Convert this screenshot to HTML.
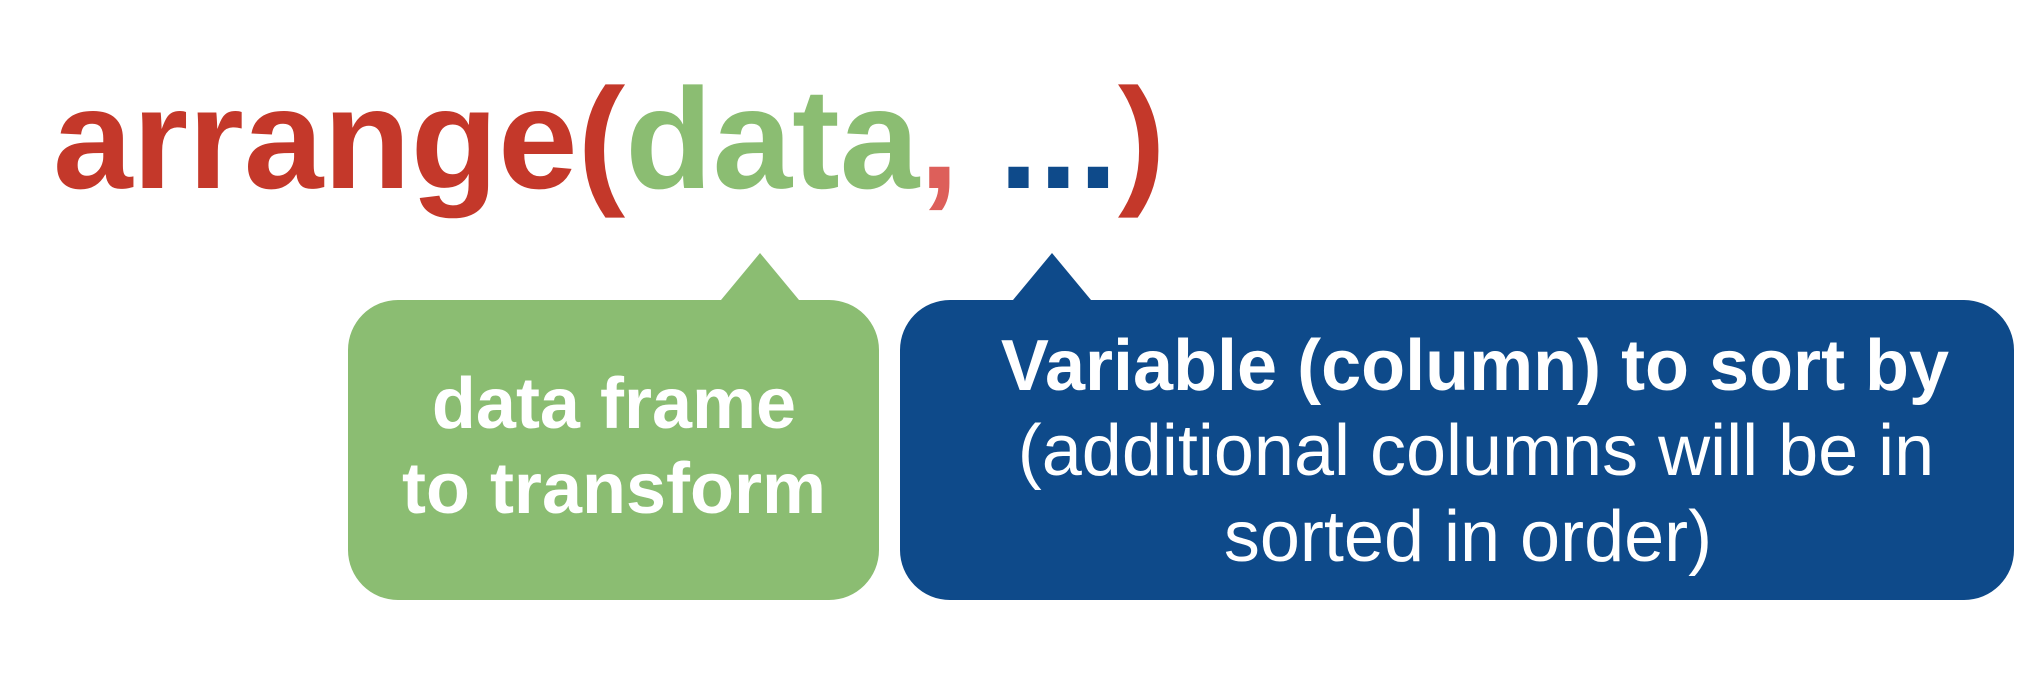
<!DOCTYPE html>
<html><head><meta charset="utf-8"><style>
html,body{margin:0;padding:0;background:#fff;}
svg{display:block}
text{font-family:"Liberation Sans",Arial,sans-serif;}
</style></head><body>
<svg width="2036" height="684" viewBox="0 0 2036 684" xmlns="http://www.w3.org/2000/svg">
<text x="53" y="188" font-size="143" font-weight="bold"><tspan fill="#C4382A">arrange(</tspan><tspan fill="#8BBD72">data</tspan><tspan fill="#DD5F5A">,</tspan><tspan fill="#0E4A8A"> ...</tspan><tspan fill="#C4382A">)</tspan></text>
<path d="M398 300 H721 L760 253 L799 300 H829 A50 50 0 0 1 879 350 V550 A50 50 0 0 1 829 600 H398 A50 50 0 0 1 348 550 V350 A50 50 0 0 1 398 300 Z" fill="#8BBD72"/>
<path d="M950 300 H1013 L1052 253 L1091 300 H1964 A50 50 0 0 1 2014 350 V550 A50 50 0 0 1 1964 600 H950 A50 50 0 0 1 900 550 V350 A50 50 0 0 1 950 300 Z" fill="#0E4A8A"/>
<g fill="#fff" text-anchor="middle" font-size="72">
<text x="614" y="428" font-weight="bold">data frame</text>
<text x="614" y="513" font-weight="bold">to transform</text>
<text x="1475" y="390" font-weight="bold">Variable (column) to sort by</text>
<text x="1476" y="475">(additional columns will be in</text>
<text x="1468" y="561">sorted in order)</text>
</g>
</svg>
</body></html>
